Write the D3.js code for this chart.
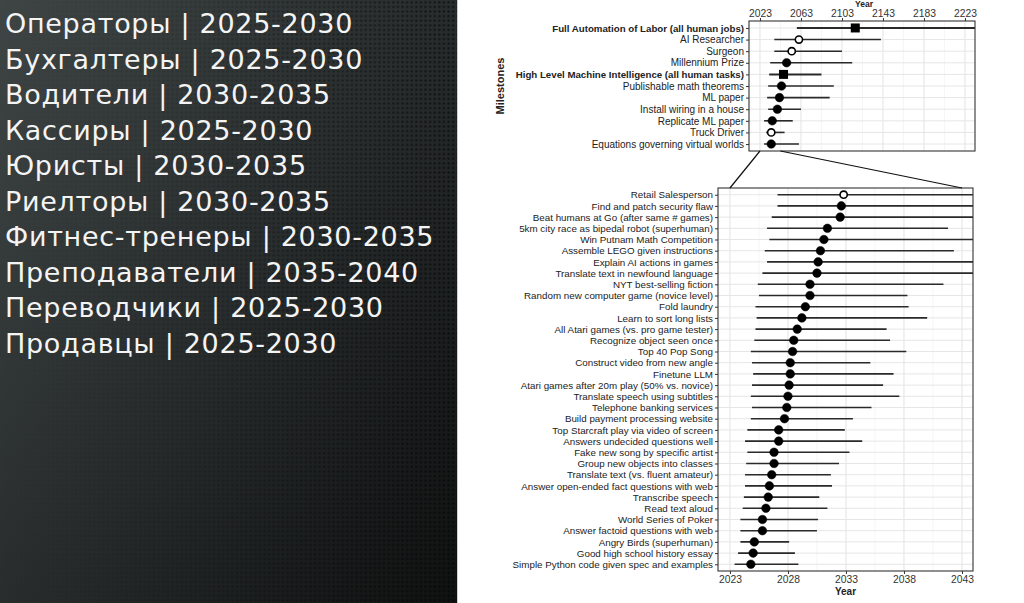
<!DOCTYPE html>
<html><head><meta charset="utf-8">
<script src="https://cdn.jsdelivr.net/npm/d3@7"></script>
<style>body{margin:0;background:#fff}svg{display:block}</style>
</head><body>
<svg id="c" width="1024" height="603"></svg>
<script>
// ---------- data ----------
const jobLabels = ["Операторы | 2025-2030","Бухгалтеры | 2025-2030","Водители | 2030-2035","Кассиры | 2025-2030","Юристы | 2030-2035","Риелторы | 2030-2035","Фитнес-тренеры | 2030-2035","Преподаватели | 2035-2040","Переводчики | 2025-2030","Продавцы | 2025-2030"];

const topNames = ["Full Automation of Labor (all human jobs)","AI Researcher","Surgeon","Millennium Prize","High Level Machine Intelligence (all human tasks)","Publishable math theorems","ML paper","Install wiring in a house","Replicate ML paper","Truck Driver","Equations governing virtual worlds"];
const topMid  = [2116, 2061, 2054, 2049, 2046, 2044, 2042, 2040, 2035, 2034, 2034];
const topLow  = [2059, 2037, 2037, 2033, 2032, 2031, 2030, 2031, 2027, 2029, 2027];
const topHigh = [2260, 2141, 2103, 2113, 2083, 2095, 2091, 2063, 2055, 2047, 2061];
const topKind = ["aggregate","occupation","occupation","task","aggregate","task","task","task","task","occupation","task"];
const topTicks = [2023, 2063, 2103, 2143, 2183, 2223];

const botNames = ["Retail Salesperson","Find and patch security flaw","Beat humans at Go (after same # games)","5km city race as bipedal robot (superhuman)","Win Putnam Math Competition","Assemble LEGO given instructions","Explain AI actions in games","Translate text in newfound language","NYT best-selling fiction","Random new computer game (novice level)","Fold laundry","Learn to sort long lists","All Atari games (vs. pro game tester)","Recognize object seen once","Top 40 Pop Song","Construct video from new angle","Finetune LLM","Atari games after 20m play (50% vs. novice)","Translate speech using subtitles","Telephone banking services","Build payment processing website","Top Starcraft play via video of screen","Answers undecided questions well","Fake new song by specific artist","Group new objects into classes","Translate text (vs. fluent amateur)","Answer open-ended fact questions with web","Transcribe speech","Read text aloud","World Series of Poker","Answer factoid questions with web","Angry Birds (superhuman)","Good high school history essay","Simple Python code given spec and examples"];
const botMid  = [2032.8,2032.6,2032.5,2031.4,2031.1,2030.8,2030.6,2030.5,2029.9,2029.9,2029.5,2029.2,2028.8,2028.5,2028.4,2028.2,2028.2,2028.1,2028.0,2027.9,2027.7,2027.2,2027.2,2026.8,2026.8,2026.6,2026.4,2026.3,2026.1,2025.8,2025.8,2025.1,2025.0,2024.8];
const botLow  = [2027.1,2027.1,2026.6,2026.2,2026.4,2026.0,2026.2,2025.8,2025.4,2025.5,2025.2,2025.3,2025.2,2025.1,2024.8,2024.9,2025.0,2024.9,2024.8,2024.9,2024.8,2024.5,2024.3,2024.5,2024.4,2024.3,2024.3,2024.2,2024.1,2023.9,2023.9,2023.9,2023.7,2023.4];
const botHigh = [2050,2050,2050,2041.8,2050,2042.3,2050,2050,2041.4,2038.3,2038.4,2040.0,2036.5,2036.8,2038.2,2035.1,2037.1,2036.2,2037.6,2035.2,2033.6,2032.9,2034.4,2033.3,2032.4,2031.7,2031.8,2030.7,2031.4,2030.6,2030.5,2028.1,2028.6,2028.9];
const botKind = botNames.map((d,i)=> i===0 ? "occupation" : "task");
const botTicks = [2023, 2028, 2033, 2038, 2043];

// ---------- drawing ----------
const svg = d3.select("#c");
const defs = svg.append("defs");

// left dark panel
const lg = defs.append("linearGradient").attr("id","bg").attr("x1","0").attr("y1","0").attr("x2","1").attr("y2","1");
lg.append("stop").attr("offset","0").attr("stop-color","#3f4545");
lg.append("stop").attr("offset","0.55").attr("stop-color","#262a2a");
lg.append("stop").attr("offset","1").attr("stop-color","#101212");
const pat = defs.append("pattern").attr("id","dots").attr("width",4.6).attr("height",4.6).attr("patternUnits","userSpaceOnUse");
pat.append("circle").attr("cx",2.3).attr("cy",2.3).attr("r",1.2).attr("fill","#000").attr("opacity",0.55);
const mg = defs.append("linearGradient").attr("id","mg").attr("x1","0").attr("x2","1");
mg.append("stop").attr("offset","0").attr("stop-color","#000");
mg.append("stop").attr("offset","0.45").attr("stop-color","#444");
mg.append("stop").attr("offset","1").attr("stop-color","#fff");
defs.append("mask").attr("id","m").append("rect").attr("width",458).attr("height",603).attr("fill","url(#mg)");

svg.append("rect").attr("width",458).attr("height",603).attr("fill","url(#bg)");
svg.append("rect").attr("width",458).attr("height",603).attr("fill","url(#dots)").attr("mask","url(#m)");
svg.append("line").attr("x1",457.5).attr("x2",457.5).attr("y1",0).attr("y2",603).attr("stroke","#cfcfcf").attr("stroke-width",1);

svg.append("g").selectAll("text").data(jobLabels).join("text")
  .attr("x",5).attr("y",(d,i)=>33+i*35.5)
  .attr("fill","#f4f4f4").attr("font-family","'DejaVu Sans', sans-serif")
  .attr("font-size",27).attr("letter-spacing",0.7).text(d=>d);

const font = "'Liberation Sans', Arial, sans-serif";

function panel(cfg){
  const g = svg.append("g");
  const x = d3.scaleLinear().domain(cfg.domain).range([cfg.x0,cfg.x1]);
  const y = d3.scalePoint().domain(cfg.names).range([cfg.y0,cfg.y1]).padding(0.6);
  const clipId = "clip"+cfg.id;
  defs.append("clipPath").attr("id",clipId).append("rect")
    .attr("x",cfg.x0).attr("y",cfg.y0).attr("width",cfg.x1-cfg.x0).attr("height",cfg.y1-cfg.y0);
  g.append("rect").attr("x",cfg.x0).attr("y",cfg.y0).attr("width",cfg.x1-cfg.x0).attr("height",cfg.y1-cfg.y0).attr("fill","#fff");
  // grid
  const step = cfg.ticks[1]-cfg.ticks[0];
  const minors = cfg.ticks.map(t=>t+step/2).concat([cfg.ticks[0]-step/2]).filter(t=>t>cfg.domain[0]&&t<cfg.domain[1]);
  const gg = g.append("g").attr("clip-path",`url(#${clipId})`);
  gg.selectAll("line.mn").data(minors).join("line").attr("class","mn")
    .attr("x1",d=>x(d)).attr("x2",d=>x(d)).attr("y1",cfg.y0).attr("y2",cfg.y1)
    .attr("stroke","#f0f0f0").attr("stroke-width",0.6);
  gg.selectAll("line.mj").data(cfg.ticks).join("line").attr("class","mj")
    .attr("x1",d=>x(d)).attr("x2",d=>x(d)).attr("y1",cfg.y0).attr("y2",cfg.y1)
    .attr("stroke","#e3e3e3").attr("stroke-width",1);
  gg.selectAll("line.hz").data(cfg.names).join("line").attr("class","hz")
    .attr("x1",cfg.x0).attr("x2",cfg.x1).attr("y1",d=>y(d)).attr("y2",d=>y(d))
    .attr("stroke","#e6e6e6").attr("stroke-width",1);
  // ranges
  const rows = cfg.names.map((n,i)=>({n,mid:cfg.mid[i],low:cfg.low[i],high:cfg.high[i],kind:cfg.kind[i]}));
  gg.selectAll("line.rg").data(rows).join("line").attr("class","rg")
    .attr("x1",d=>x(d.low)).attr("x2",d=>x(d.high)).attr("y1",d=>y(d.n)).attr("y2",d=>y(d.n))
    .attr("stroke","#2a2a2a").attr("stroke-width",d=>d.kind==="aggregate"?2:1.6);
  gg.selectAll("rect.sq").data(rows.filter(d=>d.kind==="aggregate")).join("rect").attr("class","sq")
    .attr("x",d=>x(d.mid)-4.5).attr("y",d=>y(d.n)-4.5).attr("width",9).attr("height",9).attr("fill","#000");
  gg.selectAll("circle.pt").data(rows.filter(d=>d.kind!=="aggregate")).join("circle").attr("class","pt")
    .attr("cx",d=>x(d.mid)).attr("cy",d=>y(d.n)).attr("r",d=>d.kind==="occupation"?3.6:4.3)
    .attr("fill",d=>d.kind==="occupation"?"#fff":"#000").attr("stroke","#000")
    .attr("stroke-width",d=>d.kind==="occupation"?1.6:0.5);
  // border
  g.append("rect").attr("x",cfg.x0).attr("y",cfg.y0).attr("width",cfg.x1-cfg.x0).attr("height",cfg.y1-cfg.y0)
    .attr("fill","none").attr("stroke","#333").attr("stroke-width",1.1);
  // y axis
  const ya = g.append("g").attr("transform",`translate(${cfg.x0},0)`).call(d3.axisLeft(y).tickSize(3).tickPadding(2));
  ya.select(".domain").remove();
  ya.selectAll(".tick line").attr("stroke","#333");
  ya.selectAll(".tick text").attr("font-family",font).attr("fill","#222")
    .attr("font-size",(d,i)=>cfg.kind[i]==="aggregate"?cfg.labelSize-0.3:cfg.labelSize)
    .attr("font-weight",(d,i)=>cfg.kind[i]==="aggregate"?"bold":"normal");
  // x axis
  const xa = cfg.top ? d3.axisTop(x) : d3.axisBottom(x);
  const xg = g.append("g").attr("transform",`translate(0,${cfg.top?cfg.y0:cfg.y1})`)
    .call(xa.tickValues(cfg.ticks).tickFormat(d3.format("d")).tickSize(3).tickPadding(cfg.top?0.8:2));
  xg.select(".domain").remove();
  xg.selectAll(".tick line").attr("stroke","#333");
  xg.selectAll(".tick text").attr("font-family",font).attr("font-size",10.3).attr("fill","#333");
  return {x,y};
}

const T = panel({id:"t",top:true,names:topNames,mid:topMid,low:topLow,high:topHigh,kind:topKind,ticks:topTicks,
  domain:[2012.3,2232.8],x0:749,x1:975,y0:21,y1:151,labelSize:10});
const B = panel({id:"b",top:false,names:botNames,mid:botMid,low:botLow,high:botHigh,kind:botKind,ticks:botTicks,
  domain:[2021.97,2043.95],x0:718,x1:973,y0:188,y1:571,labelSize:9.8});

// zoom connectors
[botTicks[0], botTicks[botTicks.length-1]].forEach(v=>{
  svg.append("line").attr("x1",T.x(v)).attr("y1",151).attr("x2",B.x(v)).attr("y2",188)
    .attr("stroke","#111").attr("stroke-width",1.2);
});

// titles
svg.append("text").attr("x",864).attr("y",6.5).attr("text-anchor","middle").attr("font-family",font)
  .attr("font-weight","bold").attr("font-size",8.5).attr("fill","#222").text("Year");
svg.append("text").attr("x",845.5).attr("y",595).attr("text-anchor","middle").attr("font-family",font)
  .attr("font-weight","bold").attr("font-size",10).attr("fill","#222").text("Year");
svg.append("text").attr("transform","translate(504,86) rotate(-90)").attr("text-anchor","middle").attr("font-family",font)
  .attr("font-weight","bold").attr("font-size",11).attr("fill","#222").text("Milestones");
</script>
</body></html>
